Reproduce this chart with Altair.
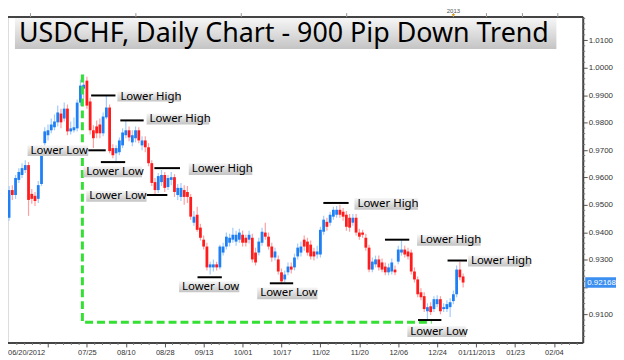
import altair as alt
import pandas as pd

# ---------------- data ----------------
opens = [0.9453,0.9554,0.9536,0.9591,0.9609,0.9627,0.9645,0.9540,0.9533,0.9522,
         0.9576,0.9725,0.9754,0.9772,0.9783,0.9801,0.9833,0.9815,0.9851,0.9768,
         0.9772,0.9779,0.9873,0.9924,0.9953,0.9877,0.9772,0.9786,0.9793,0.9761,
         0.9819,0.9855,0.9707,0.9688,0.9692,0.9717,0.9754,0.9772,0.9728,0.9743,
         0.9772,0.9717,0.9735,0.9710,0.9652,0.9583,0.9554,0.9583,0.9609,0.9565,
         0.9591,0.9601,0.9536,0.9529,0.9554,0.9547,0.9529,0.9435,0.9464,0.9417,
         0.9373,0.9348,0.9272,0.9272,0.9283,0.9272,0.9326,0.9348,0.9362,0.9373,
         0.9366,0.9373,0.9391,0.9380,0.9373,0.9380,0.9326,0.9326,0.9362,0.9399,
         0.9384,0.9348,0.9308,0.9301,0.9254,0.9228,0.9254,0.9275,0.9272,0.9312,
         0.9326,0.9373,0.9366,0.9355,0.9330,0.9319,0.9319,0.9402,0.9438,0.9435,
         0.9457,0.9464,0.9482,0.9475,0.9464,0.9453,0.9435,0.9453,0.9399,0.9399,
         0.9380,0.9344,0.9264,0.9283,0.9301,0.9290,0.9275,0.9254,0.9257,0.9264,
         0.9293,0.9326,0.9337,0.9330,0.9326,0.9257,0.9228,0.9181,0.9167,0.9112,
         0.9130,0.9120,0.9138,0.9156,0.9120,0.9120,0.9127,0.9149,0.9174,0.9264,
         0.9239]
closes = [0.9554,0.9536,0.9598,0.9620,0.9634,0.9645,0.9518,0.9522,0.9514,0.9572,
          0.9707,0.9768,0.9772,0.9793,0.9804,0.9837,0.9801,0.9851,0.9768,0.9779,
          0.9783,0.9873,0.9935,0.9938,0.9862,0.9772,0.9743,0.9761,0.9761,0.9822,
          0.9855,0.9696,0.9681,0.9707,0.9735,0.9764,0.9772,0.9746,0.9754,0.9772,
          0.9735,0.9735,0.9710,0.9652,0.9580,0.9554,0.9605,0.9609,0.9562,0.9598,
          0.9601,0.9547,0.9562,0.9562,0.9529,0.9529,0.9457,0.9457,0.9409,0.9380,
          0.9348,0.9272,0.9283,0.9283,0.9272,0.9348,0.9348,0.9384,0.9380,0.9391,
          0.9391,0.9399,0.9362,0.9362,0.9391,0.9301,0.9290,0.9366,0.9402,0.9384,
          0.9348,0.9308,0.9330,0.9257,0.9221,0.9246,0.9275,0.9264,0.9308,0.9344,
          0.9348,0.9348,0.9326,0.9312,0.9312,0.9330,0.9409,0.9446,0.9420,0.9464,
          0.9482,0.9482,0.9464,0.9457,0.9420,0.9417,0.9453,0.9399,0.9384,0.9391,
          0.9344,0.9264,0.9293,0.9301,0.9272,0.9264,0.9254,0.9272,0.9290,0.9254,
          0.9337,0.9337,0.9319,0.9312,0.9257,0.9228,0.9174,0.9163,0.9120,0.9127,
          0.9109,0.9156,0.9156,0.9112,0.9127,0.9138,0.9145,0.9174,0.9264,0.9236,
          0.92168]
highs = [0.9569,0.9572,0.9609,0.9634,0.9652,0.9663,0.9656,0.9558,0.9547,0.9587,
         0.9717,0.9783,0.9793,0.9815,0.9830,0.9862,0.9851,0.9873,0.9866,0.9804,
         0.9819,0.9884,0.9957,0.9975,0.9967,0.9891,0.9790,0.9808,0.9815,0.9837,
         0.9899,0.9866,0.9721,0.9717,0.9746,0.9779,0.9808,0.9786,0.9772,0.9786,
         0.9783,0.9750,0.9750,0.9725,0.9663,0.9598,0.9616,0.9627,0.9620,0.9609,
         0.9620,0.9612,0.9576,0.9580,0.9572,0.9569,0.9540,0.9478,0.9493,0.9431,
         0.9388,0.9362,0.9293,0.9301,0.9293,0.9355,0.9362,0.9399,0.9395,0.9417,
         0.9406,0.9413,0.9406,0.9391,0.9406,0.9395,0.9344,0.9380,0.9417,0.9435,
         0.9399,0.9362,0.9344,0.9315,0.9268,0.9261,0.9290,0.9290,0.9322,0.9359,
         0.9366,0.9388,0.9380,0.9370,0.9344,0.9351,0.9420,0.9460,0.9453,0.9475,
         0.9493,0.9496,0.9500,0.9489,0.9478,0.9467,0.9467,0.9467,0.9413,0.9409,
         0.9395,0.9355,0.9308,0.9315,0.9315,0.9304,0.9290,0.9286,0.9304,0.9279,
         0.9351,0.9373,0.9351,0.9344,0.9337,0.9272,0.9239,0.9196,0.9181,0.9141,
         0.9145,0.9167,0.9170,0.9167,0.9141,0.9152,0.9159,0.9188,0.9279,0.9293,
         0.9250]
lows = [0.9442,0.9518,0.9522,0.9580,0.9598,0.9616,0.9460,0.9504,0.9496,0.9507,
        0.9569,0.9714,0.9735,0.9761,0.9772,0.9786,0.9779,0.9804,0.9754,0.9757,
        0.9764,0.9768,0.9862,0.9888,0.9851,0.9757,0.9707,0.9743,0.9743,0.9750,
        0.9812,0.9688,0.9670,0.9659,0.9681,0.9707,0.9743,0.9732,0.9714,0.9728,
        0.9725,0.9699,0.9692,0.9641,0.9569,0.9536,0.9543,0.9569,0.9547,0.9554,
        0.9572,0.9529,0.9518,0.9514,0.9500,0.9507,0.9446,0.9424,0.9402,0.9370,
        0.9337,0.9261,0.9246,0.9257,0.9261,0.9264,0.9315,0.9337,0.9348,0.9362,
        0.9351,0.9362,0.9348,0.9348,0.9359,0.9290,0.9279,0.9315,0.9351,0.9373,
        0.9337,0.9293,0.9297,0.9246,0.9214,0.9217,0.9243,0.9250,0.9261,0.9301,
        0.9312,0.9333,0.9315,0.9301,0.9297,0.9304,0.9308,0.9391,0.9406,0.9424,
        0.9446,0.9453,0.9453,0.9442,0.9406,0.9402,0.9424,0.9388,0.9373,0.9380,
        0.9333,0.9254,0.9254,0.9272,0.9261,0.9254,0.9243,0.9243,0.9246,0.9243,
        0.9283,0.9315,0.9308,0.9301,0.9246,0.9217,0.9163,0.9152,0.9109,0.9083,
        0.9098,0.9109,0.9127,0.9101,0.9109,0.9109,0.9091,0.9138,0.9163,0.9225,
        0.9199]

tick_idx = [12, 24, 36, 48, 60, 72, 84, 96, 108, 120, 132, 144, 156, 168]
tick_labels = ["", "07/25", "08/10", "08/28", "09/13", "10/01", "10/17",
               "11/02", "11/20", "12/06", "12/24", "01/11/2013", "01/23", "02/04"]
first_label = "06/20/2012"
price_ticks = [0.91, 0.92, 0.93, 0.94, 0.95, 0.96, 0.97, 0.98, 0.99, 1.00, 1.01]
top_ticks = [6.6, 39.1, 71.6, 104.1, 137.0, 147.2, 158.3, 169.2]
year_mark_idx = 137.0
year_mark_text = "2013"
last_price = 0.92168

ann_text = ["Lower High", "Lower High", "Lower Low", "Lower Low", "Lower High", "Lower Low",
            "Lower Low", "Lower Low", "Lower High", "Lower High", "Lower High", "Lower Low"]
ann_box_x0 = [33.4, 42.4, 5.7, 22.9, 55.4, 23.8, 52.4, 76.5, 106.5, 125.8, 141.5, 122.8]
ann_box_x1 = [53.0, 61.7, 24.4, 41.0, 75.0, 42.4, 71.0, 95.1, 126.1, 145.4, 160.7, 140.9]
ann_box_top = [0.9913, 0.9833, 0.9717, 0.9641, 0.9652, 0.9551, 0.9221, 0.9199, 0.9525, 0.9391, 0.9315, 0.9058]
ann_box_bot = [0.9877, 0.9793, 0.9678, 0.9601, 0.9609, 0.9511, 0.9181, 0.9156, 0.9482, 0.9351, 0.9275, 0.9018]
ann_line_x0 = [25.3, 34.3, 24.4, 28.3, 44.8, 42.4, 58.1, 80.4, 96.9, 115.9, 135.2, 126.1]
ann_line_x1 = [32.8, 41.5, 29.8, 35.8, 52.7, 48.8, 65.6, 87.6, 104.7, 123.4, 141.2, 133.3]
ann_line_y = [0.9899, 0.9808, 0.9699, 0.9656, 0.9634, 0.9536, 0.9236, 0.9214, 0.9507, 0.9373, 0.9297, 0.9080]

trend_idx = [22.6, 22.6, 130.3]
trend_price = [0.9975, 0.9072, 0.9072]

title_text = "USDCHF, Daily Chart - 900 Pip Down Trend"

# ---------------- layout ----------------
W, H = 579, 328
XDOM = [1.2, 175.5]
YDOM = [0.89964, 1.01848]
xs = alt.Scale(domain=XDOM, nice=False, zero=False)
ys = alt.Scale(domain=YDOM, nice=False, zero=False)

expr = "[" + ",".join("'%s'" % t for t in tick_labels) + "][round(datum.value/12)-1]"
# the 0.9200 label sits under the last-price marker, as in the reference
yexpr = "abs(datum.value - %.5f) < 0.003 ? '' : format(datum.value, '.4f')" % last_price
XAX = alt.Axis(values=tick_idx, labelExpr=expr, title=None, domain=False, grid=False,
               tickSize=4, tickColor="#555", labelFontSize=7.5, labelColor="#333",
               labelFont="Liberation Sans", labelPadding=2, labelOverlap=False)
YAX = alt.Axis(orient="right", values=price_ticks, labelExpr=yexpr, title=None, domain=False,
               grid=False, tickSize=4, tickColor="#555", labelFontSize=8, labelColor="#333",
               labelFont="Liberation Sans", labelPadding=1)

def X(f):
    return alt.X(f, scale=xs, axis=XAX)

def Y(f):
    return alt.Y(f, scale=ys, axis=YAX)

df = pd.DataFrame({"i": list(range(len(opens))), "open": opens, "close": closes,
                   "high": highs, "low": lows})
ann = pd.DataFrame({"text": ann_text, "bx0": ann_box_x0, "bx1": ann_box_x1,
                    "btop": ann_box_top, "bbot": ann_box_bot,
                    "lx0": ann_line_x0, "lx1": ann_line_x1, "ly": ann_line_y})
ann["bmid"] = (ann["btop"] + ann["bbot"]) / 2
trend = pd.DataFrame({"i": trend_idx, "p": trend_price, "o": [0, 1, 2]})

grad = {"gradient": "linear", "x1": 0, "x2": 0, "y1": 0, "y2": 1,
        "stops": [{"offset": 0, "color": "#f6f6f6"}, {"offset": 1, "color": "#c4c4c4"}]}

up_body, dn_body = "#1f7ff4", "#ff1c1c"
up_wick, dn_wick = "#9fcbff", "#ff9f9f"

wicks = alt.Chart(df).mark_rule(strokeWidth=1.2).encode(
    x=X("i:Q"), y=Y("low:Q"), y2="high:Q",
    color=alt.condition("datum.close >= datum.open", alt.value(up_wick), alt.value(dn_wick)),
)
bodies = alt.Chart(df).mark_bar(width=2.8).encode(
    x=X("i:Q"), y=Y("open:Q"), y2="close:Q",
    color=alt.condition("datum.close >= datum.open", alt.value(up_body), alt.value(dn_body)),
)
trend_line = alt.Chart(trend).mark_line(color="#33e033", strokeWidth=3, strokeDash=[8, 4]).encode(
    x=X("i:Q"), y=Y("p:Q"), order="o:Q")
ann_lines = alt.Chart(ann).mark_rule(color="black", strokeWidth=2).encode(
    x=X("lx0:Q"), x2="lx1:Q", y=Y("ly:Q"))
ann_boxes = alt.Chart(ann).mark_rect(fill=grad).encode(
    x=X("bx0:Q"), x2="bx1:Q", y=Y("btop:Q"), y2="bbot:Q")
ann_texts = alt.Chart(ann).mark_text(align="left", baseline="middle", dx=3, fontSize=11.5,
                                     font="Noto Sans", color="black").encode(
    x=X("bx0:Q"), y=Y("bmid:Q"), text="text:N")

title_df = pd.DataFrame({"t": [title_text]})
title_box = alt.Chart(title_df).mark_rect(fill=grad).encode(
    x=alt.value(7), x2=alt.value(552), y=alt.value(1), y2=alt.value(32))
title_txt = alt.Chart(title_df).mark_text(align="left", baseline="middle", fontSize=27,
                                          font="Noto Sans", color="black").encode(
    x=alt.value(11), y=alt.value(17), text="t:N")

frame_df = pd.DataFrame({"k": [0]})
frame_top = alt.Chart(frame_df).mark_rule(color="#444", strokeWidth=2).encode(
    x=alt.value(0), x2=alt.value(W), y=alt.value(0))
frame_right = alt.Chart(frame_df).mark_rule(color="#444", strokeWidth=2).encode(
    x=alt.value(W), y=alt.value(0), y2=alt.value(H))
frame_bot = alt.Chart(frame_df).mark_rule(color="#444", strokeWidth=2).encode(
    x=alt.value(0), x2=alt.value(W), y=alt.value(H))

minor_x = pd.DataFrame({"v": [m * 2.4 for m in range(0, 74)
                              if m % 5 != 0 and XDOM[0] <= m * 2.4 <= XDOM[1]]})
minor_x_rules = alt.Chart(minor_x).mark_rule(color="#777", strokeWidth=1).encode(
    x=X("v:Q"), y=alt.value(H), y2=alt.value(H + 2))
minor_y = pd.DataFrame({"v": [round(0.900 + 0.002 * m, 3) for m in range(0, 60)
                              if m % 5 != 0 and YDOM[0] <= 0.900 + 0.002 * m <= YDOM[1]]})
minor_y_rules = alt.Chart(minor_y).mark_rule(color="#777", strokeWidth=1).encode(
    y=Y("v:Q"), x=alt.value(W), x2=alt.value(W + 2))

top_df = pd.DataFrame({"v": top_ticks})
top_rules = alt.Chart(top_df).mark_rule(color="#999", strokeWidth=1).encode(
    x=X("v:Q"), y=alt.value(-4), y2=alt.value(0))

year_df = pd.DataFrame({"v": [year_mark_idx], "t": [year_mark_text]})
year_txt = alt.Chart(year_df).mark_text(fontSize=6, color="#555", baseline="bottom",
                                        font="Liberation Sans").encode(
    x=X("v:Q"), y=alt.value(-3), text="t:N")
year_tri = alt.Chart(year_df).mark_point(shape="triangle-down", filled=True, size=12,
                                         color="#e0a020", opacity=1).encode(
    x=X("v:Q"), y=alt.value(-1.5))

first_df = pd.DataFrame({"t": [first_label]})
first_txt = alt.Chart(first_df).mark_text(align="left", baseline="top", fontSize=7.5,
                                          color="#333", font="Liberation Sans").encode(
    x=alt.value(0), y=alt.value(H + 6), text="t:N")

lp_df = pd.DataFrame({"p": [last_price], "p1": [last_price + 0.0019], "p2": [last_price - 0.0019],
                      "t": ["%.5f" % last_price]})
lp_box = alt.Chart(lp_df).mark_rect(color="#3b8ff0").encode(
    x=alt.value(W + 2), x2=alt.value(W + 36), y=Y("p1:Q"), y2="p2:Q")
lp_txt = alt.Chart(lp_df).mark_text(align="left", baseline="middle", fontSize=8,
                                    color="white", font="Liberation Sans").encode(
    x=alt.value(W + 4), y=Y("p:Q"), text="t:N")

chart = alt.layer(
    wicks, bodies, trend_line, ann_lines, ann_boxes, ann_texts,
    title_box, title_txt, frame_top, frame_right, frame_bot,
    minor_x_rules, minor_y_rules, top_rules, year_txt, year_tri, first_txt,
    lp_box, lp_txt,
).properties(
    width=W, height=H,
    autosize=alt.AutoSizeParams(type="none"),
    padding={"left": 0, "top": 8, "right": 33, "bottom": 16},
).configure_view(stroke=None).configure(background="white")

chart.save("out.html", embed_options={"renderer": "svg", "actions": False})
